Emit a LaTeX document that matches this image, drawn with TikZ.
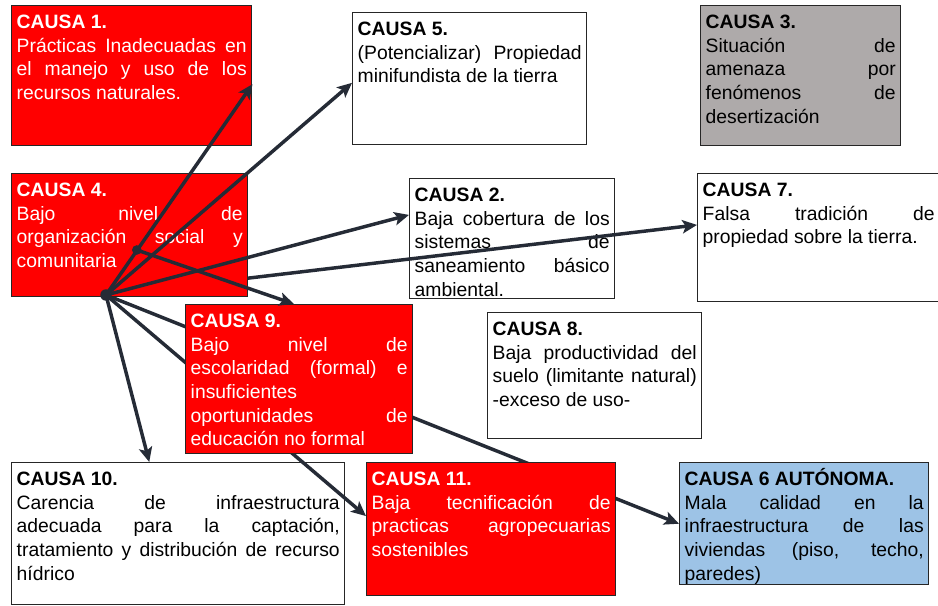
\documentclass[tikz,border=0pt]{standalone}
\usepackage{fontspec}
\setmainfont{Liberation Sans}
\usetikzlibrary{arrows.meta}

\definecolor{rojo}{RGB}{255,0,0}
\definecolor{gris}{RGB}{174,170,170}
\definecolor{azul}{RGB}{157,195,230}
\definecolor{borde}{RGB}{38,38,38}
\definecolor{oscuro}{RGB}{37,43,54}

\pgfdeclarelayer{fondo}
\pgfsetlayers{fondo,main}

\hyphenpenalty=10000
\exhyphenpenalty=10000
\tolerance=10000
\hbadness=10000

\begin{document}
\begin{tikzpicture}[x=0.75pt,y=0.75pt,yscale=-1,xscale=1,
  causa/.style={draw=borde, line width=1.1pt, anchor=north west, inner xsep=3.75pt, inner ysep=0pt,
    align=justify, text height=17.25pt, font=\fontsize{14.5pt}{17.7pt}\selectfont},
  roja/.style={causa, fill=rojo, text=white},
  blanca/.style={causa, fill=white, text=black},
  gris/.style={causa, fill=gris, text=black},
  azul/.style={causa, fill=azul, text=black},
  flecha/.style={draw=oscuro, line width=2.6pt, -{Stealth[length=11pt,width=10pt,inset=2.5pt]}}]
\useasboundingbox (0,0) rectangle (938,606);

%Shape: Rectangle [CAUSA 4]
\node [roja, text width=169.5pt, text depth=75pt] (c4) at (11,173) {\textbf{CAUSA 4.}\\
  Bajo nivel de\linebreak organización social y\linebreak comunitaria};
%Shape: Rectangle [CAUSA 9]
\node [roja, text width=162.75pt, text depth=94.5pt] (c9) at (185,304) {\textbf{CAUSA 9.}\\
  Bajo nivel de\linebreak escolaridad (formal) e\linebreak insuficientes\\ oportunidades de\linebreak educación no formal};
%Shape: Rectangle [CAUSA 11]
\node [roja, text width=179.25pt, text depth=82.5pt] (c11) at (366,462) {\textbf{CAUSA 11.}\\
  Baja tecnificación de\linebreak practicas agropecuarias\linebreak sostenibles};

%Points
\coordinate (hub) at (106,295);
\coordinate (nudo) at (136.8,250);

\begin{pgfonlayer}{fondo}
%Shape: Rectangle [CAUSA 1]
\node [roja, text width=172.5pt, text depth=87.75pt] (c1) at (11,5) {\textbf{CAUSA 1.}\\
  Prácticas Inadecuadas en\linebreak el manejo y uso de los\linebreak recursos naturales.};
%Shape: Rectangle [CAUSA 5]
\node [blanca, text width=168pt, text depth=81.75pt] (c5) at (352,12) {\textbf{CAUSA 5.}\\
  (Potencializar) Propiedad\linebreak minifundista de la tierra};
%Shape: Rectangle [CAUSA 3]
\node [gris, text width=142.5pt, text depth=87.75pt] (c3) at (700,5) {\textbf{CAUSA 3.}\\
  Situación de\linebreak amenaza por\linebreak fenómenos de\linebreak desertización};
%Shape: Rectangle [CAUSA 2]
\node [blanca, text width=146.25pt, text depth=72.75pt] (c2) at (409,178) {\textbf{CAUSA 2.}\\
  Baja cobertura de los\linebreak sistemas de\linebreak saneamiento básico\linebreak ambiental.};
%Shape: Rectangle [CAUSA 7]
\node [blanca, text width=174pt, text depth=78.75pt] (c7) at (697,173) {\textbf{CAUSA 7.}\\
  Falsa tradición de\linebreak propiedad sobre la tierra.};
%Shape: Rectangle [CAUSA 8]
\node [blanca, text width=153pt, text depth=77.25pt] (c8) at (487,312) {\textbf{CAUSA 8.}\\
  Baja productividad del\linebreak suelo (limitante natural)\linebreak -exceso de uso-};
%Shape: Rectangle [CAUSA 10]
\node [blanca, text width=242.25pt, text depth=89.25pt] (c10) at (11,462) {\textbf{CAUSA 10.}\\
  Carencia de infraestructura\linebreak adecuada para la captación,\linebreak tratamiento y distribución de recurso\linebreak hídrico};
%Shape: Rectangle [CAUSA 6]
\node [azul, text width=179.25pt, text depth=74.25pt] (c6) at (679,462) {\textbf{CAUSA 6 AUTÓNOMA.}\\
  Mala calidad en la\linebreak infraestructura de las\linebreak viviendas (piso, techo,\linebreak paredes)};

%Straight Lines (under CAUSA 4, 9 and 11)
\draw [flecha] (hub) -- (c7.174);
\draw [flecha] (hub) -- (c11.174);
\draw [flecha] (hub) -- (c6.west);
\end{pgfonlayer}

%Straight Lines
\draw [flecha] (hub) -- (c1.-4);
\draw [flecha] (hub) -- (c5.182);
\draw [flecha] (hub) -- (c2.167);
\draw [flecha] (hub) -- (c10.112);
\draw [flecha] (nudo) -- (c9.94);

%Shape: Circle
\fill [oscuro] (hub) circle (4.3pt);
\fill [oscuro] (nudo) circle (3.6pt);

\end{tikzpicture}
\end{document}
